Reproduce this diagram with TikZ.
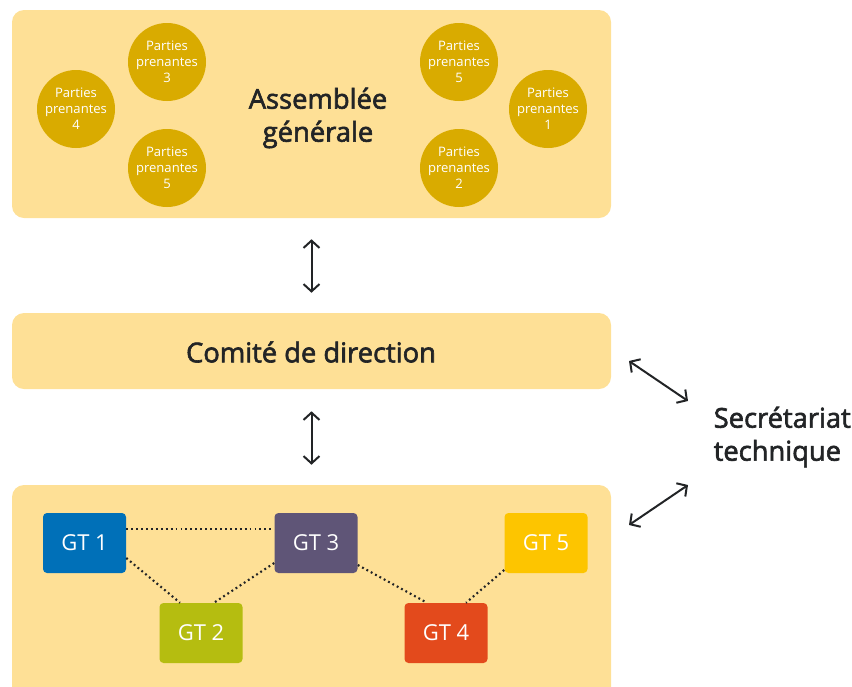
\documentclass[tikz,border=0pt]{standalone}
\usepackage{fontspec}
\setmainfont{Open Sans}
\newfontfamily\titlefont[FakeBold=2.2]{Open Sans}
\usetikzlibrary{arrows.meta}
\definecolor{panelc}{HTML}{FEE096}
\definecolor{goldc}{HTML}{D9AB00}
\definecolor{inkc}{HTML}{222426}
\definecolor{gtone}{HTML}{0070B8}
\definecolor{gttwo}{HTML}{B5BD10}
\definecolor{gtthree}{HTML}{5F5577}
\definecolor{gtfour}{HTML}{E34A1C}
\definecolor{gtfive}{HTML}{FDC500}
\tikzset{
  panel/.style={fill=panelc, rounded corners=9pt, inner sep=0pt, minimum width=449.25pt},
  pp/.style={circle, fill=goldc, text=white, minimum size=58.5pt, inner sep=0pt, align=center, font=\fontsize{9.8}{12}\selectfont},
  gtbox/.style={rounded corners=3pt, minimum width=62.25pt, minimum height=45pt, inner sep=0pt, text=white, font=\fontsize{16.5}{18}\selectfont},
  title/.style={text=inkc, align=center, font=\titlefont\fontsize{20.5}{24.75}\selectfont},
  biarrow/.style={draw=inkc, line width=1.5pt, {Straight Barb[length=5.5pt,width=12pt]}-{Straight Barb[length=5.5pt,width=12pt]}},
  dotline/.style={draw=inkc, line width=1.6pt, dash pattern=on 1.4pt off 2.3pt}
}
\begin{document}
\begin{tikzpicture}[x=0.75pt,y=-0.75pt]
\useasboundingbox (0,0) rectangle (852,686);
\begin{scope}
\clip (0,0) rectangle (852,686);
\node[panel, minimum height=156pt] (ag) at (311.5,114) {};
\node[panel, minimum height=57pt] (cd) at (311.5,351) {};
\node[panel, minimum height=161.25pt] (gt) at (311.5,592.5) {};
\end{scope}

\node[title] (agt) at (318,118) {Assemblée\\générale};
\node[title] (cdt) at (311,352) {Comité de direction};

\node[pp] (p3) at (167,62) {Parties\\prenantes\\3};
\node[pp] (p4) at (76,109) {Parties\\prenantes\\4};
\node[pp] (p5a) at (167,168) {Parties\\prenantes\\5};
\node[pp] (p5b) at (459,62) {Parties\\prenantes\\5};
\node[pp] (p1) at (548,109) {Parties\\prenantes\\1};
\node[pp] (p2) at (459,168) {Parties\\prenantes\\2};

\node[gtbox, fill=gtone] (gt1) at (84.5,543) {GT 1};
\node[gtbox, fill=gttwo] (gt2) at (201,633) {GT 2};
\node[gtbox, fill=gtthree] (gt3) at (316,543) {GT 3};
\node[gtbox, fill=gtfour] (gt4) at (446,633) {GT 4};
\node[gtbox, fill=gtfive] (gt5) at (546,543) {GT 5};

\draw[dotline] ([yshift=10.5pt]gt1.east) -- ([yshift=10.5pt]gt3.west);
\draw[dotline] ([yshift=-11.25pt]gt1.east) -- ([xshift=-15.75pt]gt2.north);
\draw[dotline] ([yshift=-15pt]gt3.west) -- ([xshift=9.75pt]gt2.north);
\draw[dotline] ([yshift=-16.5pt]gt3.east) -- ([xshift=-14.25pt]gt4.north);
\draw[dotline] ([yshift=-20.25pt]gt5.west) -- ([xshift=15pt]gt4.north);

\node[title, align=left, anchor=west] (st) at (709,437) {Secrétariat\\technique};

\draw[biarrow, shorten <=15.75pt, shorten >=15pt] (ag.south) -- (cd.north);
\draw[biarrow, shorten <=16.5pt, shorten >=15pt] (cd.south) -- (gt.north);

\coordinate (a1s) at (629,361);
\coordinate (a1e) at (688,401);
\coordinate (a2s) at (688,485);
\coordinate (a2e) at (629,525);
\draw[biarrow] (a1s) -- (a1e);
\draw[biarrow] (a2s) -- (a2e);
\end{tikzpicture}
\end{document}
